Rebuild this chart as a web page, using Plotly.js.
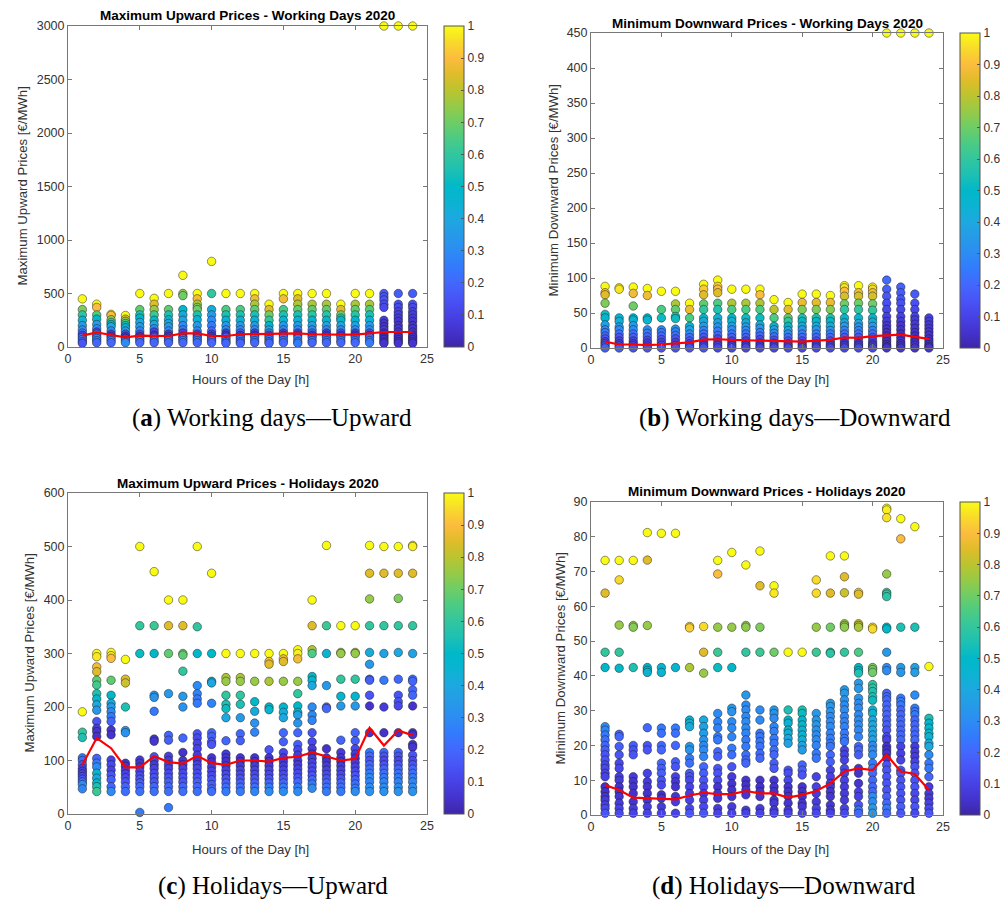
<!DOCTYPE html>
<html>
<head>
<meta charset="utf-8">
<script src="https://cdn.plot.ly/plotly-3.0.1.min.js"></script>
<style>html,body{margin:0;padding:0;background:#fff;}#chart{width:1005px;height:902px;}</style>
</head>
<body>
<div id="chart"></div>
<script>
const hours = [1,2,3,4,5,6,7,8,9,10,11,12,13,14,15,16,17,18,19,20,21,22,23,24];

// each hour: [price, colour value]
const upWork = [
 [[450,1],[350,.72],[300,.58],[250,.45],[200,.36],[160,.3],[130,.25],[110,.1],[90,.2],[70,.25],[50,.2],[35,.15]],
 [[400,1],[370,.9],[300,.65],[260,.5],[210,.35],[170,.3],[140,.1],[120,.25],[100,.2],[80,.3],[60,.25],[40,.2]],
 [[305,1],[295,.9],[255,.75],[230,.6],[210,.5],[190,.4],[150,.3],[120,.1],[100,.05],[80,.2],[60,.25],[40,.2]],
 [[295,1],[260,.85],[240,.75],[220,.65],[200,.55],[180,.45],[150,.35],[120,.15],[100,.05],[80,.1],[60,.25],[40,.3]],
 [[500,1],[350,.68],[300,.55],[270,.5],[230,.4],[190,.35],[150,.3],[120,.15],[100,.05],[80,.2],[60,.25],[40,.2]],
 [[455,1],[400,.85],[350,.75],[300,.62],[250,.5],[210,.4],[170,.3],[140,.1],[110,.05],[90,.2],[60,.25],[40,.2]],
 [[500,1],[350,.68],[300,.55],[255,.45],[220,.4],[190,.35],[150,.3],[120,.1],[100,.05],[80,.2],[60,.25],[40,.2]],
 [[670,1],[500,.75],[480,.7],[350,.5],[300,.42],[250,.38],[200,.3],[160,.25],[130,.1],[100,.05],[80,.2],[60,.25],[40,.2]],
 [[500,1],[450,.88],[400,.78],[370,.72],[350,.7],[300,.55],[255,.45],[200,.35],[150,.3],[120,.1],[100,.05],[80,.2],[60,.25],[40,.2]],
 [[800,1],[500,.6],[350,.42],[300,.35],[250,.3],[200,.25],[150,.2],[120,.1],[100,.05],[80,.15],[60,.2],[40,.2]],
 [[500,1],[350,.65],[300,.55],[250,.45],[200,.35],[160,.3],[130,.1],[110,.05],[90,.2],[70,.25],[50,.2],[35,.2]],
 [[500,1],[350,.65],[300,.55],[250,.45],[200,.35],[160,.3],[130,.2],[110,.05],[90,.15],[70,.25],[50,.2],[35,.2]],
 [[500,1],[450,.88],[400,.78],[350,.68],[300,.55],[250,.45],[200,.35],[160,.3],[130,.1],[110,.05],[90,.2],[60,.25],[40,.2]],
 [[400,1],[350,.85],[300,.7],[250,.6],[200,.48],[160,.38],[130,.3],[110,.1],[90,.2],[70,.25],[50,.2],[35,.2]],
 [[500,1],[450,.88],[350,.65],[300,.55],[250,.45],[200,.35],[160,.3],[130,.1],[110,.05],[90,.2],[60,.25],[40,.2]],
 [[500,1],[450,.85],[400,.78],[350,.68],[300,.55],[250,.45],[200,.35],[160,.3],[130,.1],[110,.05],[80,.25],[50,.3],[35,.25]],
 [[500,1],[400,.78],[350,.68],[300,.58],[250,.48],[200,.38],[160,.3],[130,.2],[110,.05],[90,.15],[60,.25],[40,.2]],
 [[500,1],[400,.78],[350,.68],[300,.58],[250,.48],[200,.38],[160,.3],[130,.1],[110,.05],[90,.2],[60,.25],[40,.2]],
 [[400,1],[350,.85],[300,.7],[270,.6],[250,.5],[200,.4],[160,.3],[130,.15],[110,.05],[90,.2],[60,.25],[40,.2]],
 [[500,1],[400,.78],[350,.68],[300,.58],[250,.48],[200,.38],[160,.3],[130,.1],[110,.05],[90,.2],[60,.25],[40,.2]],
 [[500,1],[400,.78],[350,.66],[300,.55],[250,.45],[200,.36],[160,.3],[130,.15],[110,.05],[90,.2],[60,.25],[40,.25]],
 [[3000,1],[500,.17],[470,.15],[440,.15],[400,.13],[370,.12],[250,.08],[220,.06],[190,.05],[160,.08],[130,.04],[110,.05],[90,.03],[70,.05],[50,.04],[35,.05]],
 [[3000,1],[500,.17],[400,.14],[370,.12],[330,.1],[300,.1],[270,.08],[240,.06],[200,.05],[170,.07],[140,.05],[110,.04],[90,.05],[70,.04],[50,.05],[35,.05]],
 [[3000,1],[500,.17],[400,.14],[370,.12],[330,.1],[300,.1],[270,.08],[240,.06],[200,.05],[170,.07],[140,.05],[110,.04],[90,.05],[70,.04],[50,.05],[35,.05]]
];
const upWorkLine = [106,137,112,90,106,103,103,128,128,103,103,119,122,122,122,128,119,115,115,115,128,140,140,140];

const downWork = [
 [[88,1],[79,.88],[76,.85],[64,.72],[48,.52],[43,.48],[33,.37],[26,.3],[22,.25],[17,.2],[13,.15],[9,.1],[6,.12],[3,.15],[0,.18]],
 [[86,1],[84,.97],[43,.47],[38,.43],[30,.35],[26,.3],[20,.22],[15,.15],[10,.1],[6,.08],[3,.12],[0,.18]],
 [[87,1],[78,.88],[60,.7],[43,.5],[40,.46],[32,.35],[26,.3],[20,.22],[15,.18],[10,.1],[6,.08],[3,.12],[0,.15]],
 [[85,1],[75,.88],[43,.5],[40,.47],[26,.3],[21,.25],[16,.2],[11,.12],[7,.08],[3,.1],[0,.15]],
 [[81,1],[55,.65],[43,.52],[26,.3],[22,.25],[17,.2],[12,.15],[8,.1],[4,.1],[0,.15]],
 [[81,1],[63,.78],[55,.68],[45,.55],[42,.52],[27,.33],[23,.28],[18,.22],[13,.15],[8,.1],[4,.1],[0,.15]],
 [[64,1],[55,.87],[43,.65],[31,.45],[26,.38],[20,.3],[15,.22],[10,.15],[6,.1],[3,.1],[0,.15]],
 [[91,1],[84,.92],[76,.85],[63,.68],[55,.6],[43,.48],[38,.42],[31,.35],[25,.28],[20,.22],[15,.16],[10,.1],[6,.06],[3,.1],[0,.15]],
 [[97,1],[88,.93],[84,.9],[79,.85],[64,.65],[55,.56],[43,.45],[36,.38],[30,.33],[24,.26],[18,.2],[13,.12],[8,.06],[4,.08],[0,.12]],
 [[84,1],[64,.78],[55,.65],[43,.5],[38,.45],[31,.38],[26,.3],[20,.24],[15,.18],[10,.1],[6,.06],[3,.08],[0,.12]],
 [[84,1],[64,.78],[55,.65],[43,.52],[36,.42],[30,.35],[25,.3],[20,.24],[15,.18],[10,.1],[6,.06],[3,.08],[0,.12]],
 [[84,1],[76,.9],[64,.78],[55,.65],[43,.52],[33,.4],[28,.33],[22,.26],[17,.2],[12,.12],[7,.06],[3,.08],[0,.12]],
 [[69,1],[55,.8],[43,.65],[31,.48],[26,.38],[21,.3],[16,.22],[11,.15],[7,.08],[3,.08],[0,.12]],
 [[65,1],[55,.85],[43,.68],[38,.6],[31,.5],[25,.4],[20,.3],[15,.22],[10,.15],[6,.08],[3,.08],[0,.12]],
 [[77,1],[65,.87],[55,.72],[43,.56],[38,.5],[31,.42],[26,.34],[20,.26],[15,.2],[10,.13],[6,.08],[3,.08],[0,.12]],
 [[77,1],[65,.86],[55,.72],[43,.56],[38,.5],[31,.42],[26,.34],[20,.26],[15,.2],[10,.13],[6,.08],[3,.08],[0,.12]],
 [[75,1],[65,.87],[55,.73],[43,.57],[38,.5],[31,.42],[25,.34],[20,.26],[15,.2],[10,.13],[6,.08],[3,.08],[0,.12]],
 [[89,1],[86,.97],[81,.9],[74,.83],[63,.7],[55,.6],[43,.48],[36,.4],[31,.35],[25,.28],[20,.22],[15,.16],[10,.1],[6,.06],[3,.08],[0,.12]],
 [[89,1],[79,.88],[74,.83],[64,.7],[55,.6],[43,.48],[35,.4],[30,.33],[25,.28],[20,.22],[15,.16],[10,.1],[6,.06],[3,.08],[0,.12]],
 [[87,1],[84,.95],[79,.88],[74,.83],[63,.7],[54,.6],[43,.48],[37,.42],[31,.35],[25,.28],[20,.22],[15,.16],[10,.1],[6,.06],[3,.08],[0,.12]],
 [[450,1],[97,.21],[84,.18],[74,.16],[64,.14],[55,.12],[45,.1],[38,.08],[32,.06],[27,.05],[22,.04],[17,.04],[13,.05],[9,.04],[5,.04],[2,.05],[0,.06]],
 [[450,1],[87,.19],[79,.17],[70,.15],[64,.14],[55,.12],[45,.1],[38,.08],[32,.06],[26,.05],[20,.04],[15,.04],[10,.05],[6,.04],[3,.05],[0,.06]],
 [[450,1],[77,.17],[64,.14],[55,.12],[45,.1],[40,.08],[34,.07],[28,.06],[22,.05],[17,.04],[12,.05],[8,.04],[4,.05],[0,.06]],
 [[450,1],[43,.1],[38,.08],[33,.07],[28,.06],[23,.05],[18,.05],[13,.04],[9,.05],[5,.04],[2,.05],[0,.06]]
];
const downWorkLine = [9,5,5,4,5,6,8,12,12.5,11.5,11,10.5,9.6,9.6,9,10.5,11.5,15,14.5,17,18,19,16,13];

const upHol = [
 [[191,1],[153,.6],[143,.55],[105,.25],[100,.22],[92,.15],[85,.1],[80,.08],[75,.1],[70,.12],[65,.15],[60,.2],[55,.3],[47,.28]],
 [[300,1],[294,.97],[275,.88],[266,.85],[250,.68],[241,.63],[225,.55],[215,.5],[204,.4],[194,.35],[173,.15],[160,.08],[154,.06],[145,.05],[104,.2],[95,.25],[88,.3],[76,.45],[67,.42],[58,.5],[51,.55],[42,.62]],
 [[302,1],[296,.97],[291,.9],[250,.68],[222,.5],[207,.4],[200,.35],[191,.3],[182,.25],[173,.2],[157,.06],[148,.05],[101,.1],[92,.12],[82,.1],[73,.15],[64,.18],[51,.2],[42,.3]],
 [[289,1],[252,.85],[245,.82],[200,.55],[156,.35],[152,.32],[95,.05],[89,.06],[82,.08],[75,.1],[68,.12],[60,.15],[51,.2],[42,.22]],
 [[500,1],[352,.6],[300,.52],[101,.08],[95,.06],[88,.05],[80,.1],[72,.12],[65,.15],[58,.18],[51,.2],[42,.22],[3,.25]],
 [[453,1],[352,.62],[300,.5],[222,.35],[218,.33],[192,.25],[140,.08],[136,.06],[107,.15],[100,.1],[92,.08],[85,.1],[76,.12],[68,.15],[60,.15],[51,.2],[42,.22]],
 [[400,1],[352,.85],[300,.68],[225,.35],[147,.2],[138,.18],[108,.1],[100,.08],[92,.1],[85,.1],[76,.12],[68,.15],[60,.18],[51,.2],[42,.22],[12,.25]],
 [[400,1],[352,.85],[300,.7],[297,.68],[267,.6],[220,.35],[200,.32],[142,.2],[115,.05],[100,.06],[92,.08],[85,.1],[76,.12],[68,.15],[60,.15],[51,.2],[42,.22]],
 [[500,1],[350,.6],[300,.48],[240,.3],[225,.27],[215,.25],[207,.25],[150,.15],[142,.12],[132,.1],[122,.1],[110,.08],[100,.06],[92,.1],[85,.12],[76,.12],[68,.15],[60,.18],[51,.2],[42,.22]],
 [[450,1],[300,.5],[248,.42],[245,.4],[207,.28],[152,.2],[145,.18],[135,.16],[130,.15],[105,.06],[97,.05],[88,.08],[80,.1],[72,.12],[64,.15],[55,.18],[47,.2],[42,.22]],
 [[300,1],[255,.78],[248,.75],[222,.6],[205,.55],[197,.52],[180,.4],[137,.2],[112,.08],[105,.06],[98,.05],[90,.08],[82,.1],[74,.12],[66,.15],[58,.18],[50,.22],[42,.25]],
 [[300,1],[255,.78],[248,.75],[222,.6],[205,.55],[180,.35],[150,.2],[137,.18],[105,.06],[98,.05],[90,.08],[82,.1],[74,.12],[66,.15],[58,.18],[50,.22],[42,.25]],
 [[300,1],[248,.75],[210,.5],[192,.42],[170,.32],[153,.28],[105,.06],[98,.05],[90,.08],[82,.1],[74,.12],[66,.15],[58,.18],[50,.22],[42,.28]],
 [[300,1],[285,.88],[280,.85],[248,.78],[200,.5],[195,.48],[120,.15],[105,.06],[98,.05],[90,.08],[82,.1],[74,.12],[66,.15],[58,.2],[50,.25],[42,.3]],
 [[300,1],[290,.88],[285,.85],[248,.75],[200,.48],[190,.42],[180,.4],[152,.2],[135,.18],[115,.12],[105,.08],[98,.06],[90,.08],[82,.1],[74,.12],[66,.15],[58,.2],[50,.25],[42,.3]],
 [[307,1],[300,.98],[290,.88],[248,.75],[225,.6],[202,.5],[190,.45],[185,.38],[170,.33],[152,.2],[130,.18],[120,.12],[110,.08],[100,.06],[92,.08],[84,.1],[76,.12],[68,.15],[60,.2],[50,.25],[42,.3]],
 [[400,1],[352,.85],[307,.78],[300,.65],[257,.5],[250,.48],[240,.4],[200,.3],[185,.3],[175,.28],[152,.15],[135,.12],[122,.08],[112,.06],[104,.08],[96,.1],[88,.12],[80,.12],[72,.15],[64,.2],[56,.25],[48,.3]],
 [[502,1],[352,.62],[300,.45],[240,.35],[200,.2],[197,.2],[122,.05],[105,.06],[98,.05],[90,.08],[82,.1],[74,.12],[66,.15],[58,.2],[50,.22],[42,.25]],
 [[352,1],[302,.78],[300,.75],[252,.6],[220,.48],[202,.35],[138,.2],[115,.08],[105,.06],[98,.05],[90,.08],[82,.1],[74,.12],[66,.15],[58,.2],[50,.22],[42,.25]],
 [[352,1],[302,.78],[300,.75],[252,.6],[220,.48],[202,.35],[152,.2],[137,.18],[122,.12],[112,.08],[104,.06],[96,.08],[88,.1],[80,.12],[72,.15],[64,.18],[56,.22],[48,.25],[42,.3]],
 [[502,1],[450,.85],[402,.75],[352,.6],[302,.42],[280,.35],[252,.2],[250,.18],[222,.15],[202,.05],[152,.05],[115,.25],[108,.2],[100,.15],[92,.2],[84,.22],[76,.25],[68,.3],[60,.28],[50,.3],[42,.32]],
 [[500,1],[450,.85],[352,.6],[300,.38],[250,.25],[200,.08],[152,.05],[115,.2],[108,.15],[100,.12],[92,.15],[84,.2],[76,.22],[68,.25],[60,.28],[50,.3],[42,.32]],
 [[500,1],[450,.85],[403,.72],[352,.6],[302,.4],[252,.2],[222,.15],[210,.15],[202,.12],[152,.05],[115,.2],[108,.15],[100,.12],[92,.15],[84,.2],[76,.22],[68,.25],[60,.28],[50,.3],[42,.32]],
 [[502,1],[500,.98],[450,.85],[352,.6],[300,.38],[252,.22],[248,.2],[232,.2],[222,.2],[202,.05],[152,.05],[148,.05],[130,.05],[125,.06],[110,.15],[100,.12],[92,.15],[84,.2],[76,.22],[68,.25],[60,.28],[50,.3],[42,.32]]
];
const upHolLine = [92,142,123,87,87,108,97,94,109,95,92,100,100,98,105,107,115,108,100,103,161,128,156,147];

const downHol = [
 [[73.2,1],[63.8,.85],[46.8,.6],[42.4,.5],[25.4,.3],[24.4,.28],[23,.25],[21.6,.22],[20,.2],[18.7,.18],[17.3,.15],[15.8,.15],[14.4,.12],[13.4,.12],[12,.1],[11,.1],[8.1,.05],[6.7,.05],[5.3,.06],[4.3,.08],[2.9,.1],[1.9,.12],[0.5,.15]],
 [[73.2,1],[67.6,.95],[54.6,.75],[46.8,.6],[42.2,.5],[23.2,.2],[22.5,.2],[19.7,.18],[17.3,.15],[14.9,.12],[13.4,.12],[11,.1],[10,.08],[8.1,.05],[6.7,.05],[5.3,.06],[3.4,.08],[1.9,.1],[0.5,.12]],
 [[73.2,1],[54.5,.75],[54,.73],[42.4,.55],[20,.18],[18.7,.15],[17.3,.15],[11,.08],[9.6,.06],[8.1,.05],[6.2,.05],[3.8,.06],[1.9,.08],[0.5,.1]],
 [[81.2,1],[73.3,.85],[54.5,.75],[42.4,.48],[41.6,.46],[41,.45],[25.1,.2],[20,.15],[18.7,.15],[12,.1],[9.6,.08],[8.1,.06],[6.2,.05],[4.3,.06],[2.4,.08],[0.5,.1]],
 [[81,1],[42.4,.48],[41,.46],[25,.25],[23.5,.23],[20,.2],[18.7,.2],[14.9,.2],[13.4,.18],[12,.18],[10,.15],[8.6,.12],[5.8,.05],[4.8,.06],[2.4,.08],[0.5,.1]],
 [[81,1],[42.4,.45],[25,.25],[23.5,.22],[20,.2],[15.3,.18],[13.9,.15],[11,.1],[9.6,.06],[8.1,.05],[5.3,.06],[3.8,.08],[0.5,.1]],
 [[54.2,.95],[53.8,.93],[42.4,.78],[27.3,.45],[26.4,.45],[25.4,.42],[19.7,.35],[18.7,.33],[16.3,.25],[14.9,.22],[12,.18],[11,.15],[10,.12],[8.1,.1],[6.2,.08],[4.3,.1],[1.9,.12],[0.5,.15]],
 [[54.2,.95],[46.8,.85],[40.8,.75],[27.3,.4],[25.4,.38],[23.5,.36],[21.6,.33],[20,.3],[18.7,.3],[16.8,.28],[13.9,.2],[12,.18],[10,.15],[8.1,.12],[6.2,.08],[4.3,.1],[2.4,.12],[0.5,.15]],
 [[73.2,1],[69.3,.9],[54,.75],[46.8,.62],[42.4,.52],[29.2,.3],[26.8,.28],[25,.27],[22.5,.25],[21.6,.25],[18.2,.2],[16.8,.18],[13.4,.15],[12,.15],[10,.12],[8.1,.06],[6.2,.05],[4.8,.06],[1.9,.08],[0.5,.1]],
 [[75.5,1],[54,.75],[42.4,.5],[30.7,.35],[29.7,.33],[26.8,.3],[25,.3],[22.5,.28],[19.2,.25],[17.3,.22],[13.9,.15],[11,.08],[9,.06],[7.2,.05],[5.3,.06],[2.4,.08],[0.5,.1]],
 [[71.9,1],[54.5,.75],[54,.74],[46.8,.6],[34.5,.35],[31.6,.3],[30.2,.3],[28.3,.3],[26.8,.3],[25,.3],[23.5,.28],[21.6,.25],[19.7,.25],[17.3,.22],[15.8,.2],[14.9,.2],[10,.06],[8.6,.05],[7.2,.05],[5.8,.06],[1.4,.08],[0.5,.1]],
 [[75.9,1],[65.9,.85],[54,.72],[46.8,.62],[30.2,.3],[27.3,.3],[23.5,.25],[22.5,.25],[21.1,.24],[19.7,.23],[17.7,.2],[16.3,.2],[10,.06],[8.1,.05],[6.7,.05],[5.3,.06],[1.9,.08],[0.5,.1]],
 [[65.9,1],[63.8,.97],[46.8,.7],[30.2,.35],[29.2,.33],[27.8,.3],[25.4,.28],[24,.27],[22,.25],[20.6,.24],[18.7,.22],[17.3,.2],[14.9,.18],[13.4,.16],[10,.06],[8.1,.05],[6.7,.05],[4.3,.06],[3.4,.07],[1.4,.08],[0.5,.1]],
 [[46.8,1],[30.2,.55],[27.3,.47],[26.4,.45],[24.4,.45],[23.5,.44],[22,.4],[20.6,.38],[12.9,.15],[12,.14],[10,.12],[8.1,.06],[6.7,.05],[5.3,.05],[3.4,.06],[1.4,.08],[0.5,.1]],
 [[46.8,1],[30.2,.55],[29.2,.52],[27.3,.5],[25.9,.48],[24.4,.45],[23,.45],[21.6,.44],[20,.38],[18.7,.36],[14.4,.2],[12.9,.18],[11.5,.15],[8.1,.06],[6.7,.05],[5.3,.05],[3.4,.06],[2.4,.07],[0.5,.1]],
 [[67.6,.95],[63.8,.95],[54,.75],[46.8,.62],[29.2,.35],[27.3,.35],[25.9,.34],[24.4,.33],[23,.3],[21.6,.3],[20,.28],[17.7,.25],[16.3,.24],[11,.1],[8.1,.1],[6.2,.08],[3.8,.08],[1.9,.1],[0.5,.12]],
 [[74.5,1],[63.8,.85],[54,.7],[46.8,.6],[46.5,.58],[32.1,.35],[31.2,.34],[29.7,.32],[28.3,.3],[26.8,.3],[25.4,.3],[23.5,.27],[22,.26],[20.6,.25],[19.7,.24],[17.3,.2],[15.3,.18],[12.9,.1],[11,.1],[9.1,.08],[8.1,.07],[6.7,.06],[5.3,.06],[2.9,.07],[1.4,.08],[0.5,.1]],
 [[74.5,1],[68.5,.85],[63.9,.82],[55,.76],[54.5,.75],[54,.74],[46.8,.6],[36,.35],[35,.35],[33.1,.32],[31.6,.3],[30.2,.3],[28.3,.28],[26.8,.28],[25.4,.27],[23.5,.25],[22,.25],[21.1,.24],[18.7,.1],[17.3,.1],[15.8,.1],[13.4,.12],[12,.1],[10,.1],[8.1,.08],[6.2,.08],[4.3,.08],[1.9,.1],[0.5,.12]],
 [[64,.95],[63.5,.85],[55,.82],[54.5,.8],[54,.78],[46.8,.65],[42.4,.5],[41.5,.5],[40.8,.55],[37.9,.35],[36.4,.35],[33.6,.32],[32.1,.3],[30.7,.3],[28.8,.3],[27.3,.3],[25.9,.3],[24.4,.29],[22.5,.28],[19.7,.2],[18.7,.2],[17.3,.18],[13.4,.05],[12,.05],[9.1,.06],[6.7,.1],[5.3,.1],[2.9,.15],[1.4,.25],[0.5,.2]],
 [[54,.95],[53.5,.95],[42.4,.72],[41.8,.7],[41,.7],[37.5,.6],[36.5,.58],[35.5,.56],[34,.55],[33,.52],[30.2,.45],[29.2,.45],[27.3,.4],[25.9,.4],[24.4,.4],[23,.38],[21.6,.38],[20,.3],[18.7,.3],[17.3,.3],[14.9,.25],[13.4,.25],[12,.2],[10,.2],[8.1,.2],[6.7,.2],[5.3,.3],[3.8,.3],[2,.35],[0.5,.35]],
 [[88.2,1],[87.7,.98],[85.5,.96],[69.3,.75],[64,.6],[63.5,.6],[62.8,.58],[54,.5],[53.5,.5],[46.8,.35],[42.4,.3],[41.5,.3],[35,.2],[34,.2],[33.1,.2],[31.6,.2],[30.2,.2],[28.8,.2],[27.3,.18],[25.9,.18],[24.4,.15],[22.5,.12],[21.6,.1],[19.7,.05],[18.7,.05],[17.7,.05],[16.3,.06],[14.4,.15],[12.9,.15],[11,.15],[9.1,.15],[7.2,.15],[5.3,.18],[3.4,.2],[1.9,.25],[0.5,.2]],
 [[85.2,1],[79.4,.9],[54,.55],[42.4,.35],[41,.34],[33.6,.25],[32.6,.25],[31.6,.25],[30.2,.2],[28.8,.2],[27.3,.2],[25.9,.2],[24.4,.2],[23,.2],[21.6,.2],[19.7,.1],[17.7,.1],[15.8,.1],[12.9,.15],[12,.15],[10,.15],[8.1,.15],[6.2,.15],[4.3,.15],[2.4,.18],[0.5,.15]],
 [[82.9,1],[54,.55],[42.4,.38],[41,.36],[34.5,.3],[30.7,.25],[29.7,.25],[28.8,.25],[27.3,.2],[25.9,.2],[24.4,.2],[23,.2],[21.6,.2],[19.7,.08],[18.2,.08],[16.8,.08],[15.3,.1],[13.9,.15],[12,.15],[10,.15],[8.1,.15],[6.2,.12],[4.3,.12],[2.4,.15],[0.5,.12]],
 [[42.7,1],[27.8,.55],[26.4,.48],[25,.48],[23.5,.48],[22.5,.46],[20.6,.4],[19.7,.4],[17.3,.3],[14.9,.25],[13.4,.25],[11,.2],[8.1,.08],[6.2,.08],[4.8,.08],[3.4,.1],[1.9,.12],[0.5,.15]]
];
const downHolLine = [8.6,7.2,5,4.8,4.8,4.5,5.6,6.4,6,6,6.9,6.2,6.2,5,5.8,6.9,9.1,12.5,13.4,12.9,17.3,12.5,11.8,7.2];

const titles = ['Maximum Upward Prices - Working Days 2020','Minimum Downward Prices - Working Days 2020',
                'Maximum Upward Prices - Holidays 2020','Minimum Downward Prices - Holidays 2020'];
const yLabels = ['Maximum Upward Prices [€/MWh]','Minimum Downward Prices [€/MWh]',
                 'Maximum Upward Prices [€/MWh]','Minimum Downward Prices [€/MWh]'];
const xLabel = 'Hours of the Day [h]';
const captions = ['(<b>a</b>) Working days—Upward','(<b>b</b>) Working days—Downward',
                  '(<b>c</b>) Holidays—Upward','(<b>d</b>) Holidays—Downward'];
const yRanges = [[0,3000],[0,450],[0,600],[0,90]];
const yDticks = [500,50,100,10];

const parula = [
 [0,'rgb(62,38,168)'],[0.05,'rgb(68,51,205)'],[0.1,'rgb(71,66,230)'],[0.15,'rgb(72,84,246)'],
 [0.2,'rgb(67,103,253)'],[0.25,'rgb(51,122,253)'],[0.3,'rgb(45,140,243)'],[0.35,'rgb(38,154,232)'],
 [0.4,'rgb(29,168,224)'],[0.45,'rgb(11,179,210)'],[0.5,'rgb(0,184,201)'],[0.55,'rgb(29,192,179)'],
 [0.6,'rgb(50,198,159)'],[0.65,'rgb(75,203,132)'],[0.7,'rgb(110,205,102)'],[0.75,'rgb(150,202,72)'],
 [0.8,'rgb(187,196,47)'],[0.85,'rgb(224,188,42)'],[0.9,'rgb(252,188,62)'],[0.95,'rgb(248,218,43)'],
 [1,'rgb(249,251,21)']
];

const W = 1005, H = 902;
const px = v => v / W, py = v => 1 - v / H;
// panel boxes in pixels: [left, right, top, bottom]
const boxes = [[68,427,26,347],[591,943,33,348],[68,427,493,814],[591,943,502,815]];
const cbX = [444,960,444,960];

const FONT = 'Liberation Sans, Arial, sans-serif';
const panels = [upWork, downWork, upHol, downHol];
const lines = [upWorkLine, downWorkLine, upHolLine, downHolLine];

const traces = [];
const layout = {
  width: W, height: H, margin:{l:0,r:0,t:0,b:0},
  paper_bgcolor:'#fff', plot_bgcolor:'#fff', showlegend:false,
  annotations: []
};

panels.forEach((pts, k) => {
  const sfx = k === 0 ? '' : String(k+1);
  const b = boxes[k];
  const x=[], y=[], c=[];
  pts.forEach((col,i)=>col.forEach(p=>{x.push(hours[i]); y.push(p[0]); c.push(p[1]);}));
  traces.push({
    type:'scatter', mode:'markers', x, y, xaxis:'x'+sfx, yaxis:'y'+sfx, cliponaxis:false, hoverinfo:'skip',
    marker:{size:8.5, color:c, cmin:0, cmax:1, colorscale:parula,
      line:{color:'rgba(25,25,25,0.8)', width:0.6}, showscale:true,
      colorbar:{x:px(cbX[k]), xanchor:'left', y:py(b[3]), yanchor:'bottom', len:(b[3]-b[2])/H, lenmode:'fraction',
        thickness:20, thicknessmode:'pixels', xpad:0, ypad:0, outlinewidth:1, outlinecolor:'#555',
        tick0:0, dtick:0.1, ticks:'inside', ticklen:3, tickcolor:'#555',
        tickfont:{family:FONT, size:12, color:'#333'}}}
  });
  traces.push({type:'scatter', mode:'lines', x:hours, y:lines[k], xaxis:'x'+sfx, yaxis:'y'+sfx,
    line:{color:'#ff0000', width:2.2}, hoverinfo:'skip'});

  const axCommon = {showline:true, linecolor:'#777', linewidth:1, mirror:'ticks', ticks:'inside', ticklen:4,
    tickcolor:'#777', showgrid:false, zeroline:false, tickfont:{family:FONT, size:12.5, color:'#333'}, fixedrange:true};
  layout['xaxis'+sfx] = Object.assign({}, axCommon, {domain:[px(b[0]), px(b[1])], range:[0,25], tick0:0, dtick:5,
    anchor:'y'+sfx});
  layout['yaxis'+sfx] = Object.assign({}, axCommon, {domain:[py(b[3]), py(b[2])], range:yRanges[k], tick0:0, dtick:yDticks[k],
    anchor:'x'+sfx});

  const cx = (b[0]+b[1])/2;
  layout.annotations.push({text:titles[k], xref:'paper', yref:'paper', x:px(cx), y:py(b[2]-10), xanchor:'center', yanchor:'middle',
    showarrow:false, font:{family:FONT, size:13.5, color:'#000', weight:'bold'}});
});

const yLabX = [22,553,29,560];
const xLabX = [250,770,250,770];
const xLabY = [379,379,849,849];
const capX = [272,795,273,784];
const capY = [418,418,886,886];
boxes.forEach((b,k)=>{
  layout.annotations.push({text:yLabels[k], xref:'paper', yref:'paper', x:px(yLabX[k]), y:py((b[2]+b[3])/2),
    xanchor:'center', yanchor:'middle', textangle:-90, showarrow:false, font:{family:FONT, size:13.2, color:'#333'}});
  layout.annotations.push({text:xLabel, xref:'paper', yref:'paper', x:px(xLabX[k]), y:py(xLabY[k]),
    xanchor:'center', yanchor:'middle', showarrow:false, font:{family:FONT, size:13.2, color:'#333'}});
  layout.annotations.push({text:captions[k], xref:'paper', yref:'paper', x:px(capX[k]), y:py(capY[k]),
    xanchor:'center', yanchor:'middle', showarrow:false, font:{family:'Liberation Serif, serif', size:25, color:'#000'}});
});

Plotly.newPlot('chart', traces, layout, {displayModeBar:false, staticPlot:true});
</script>
</body>
</html>
